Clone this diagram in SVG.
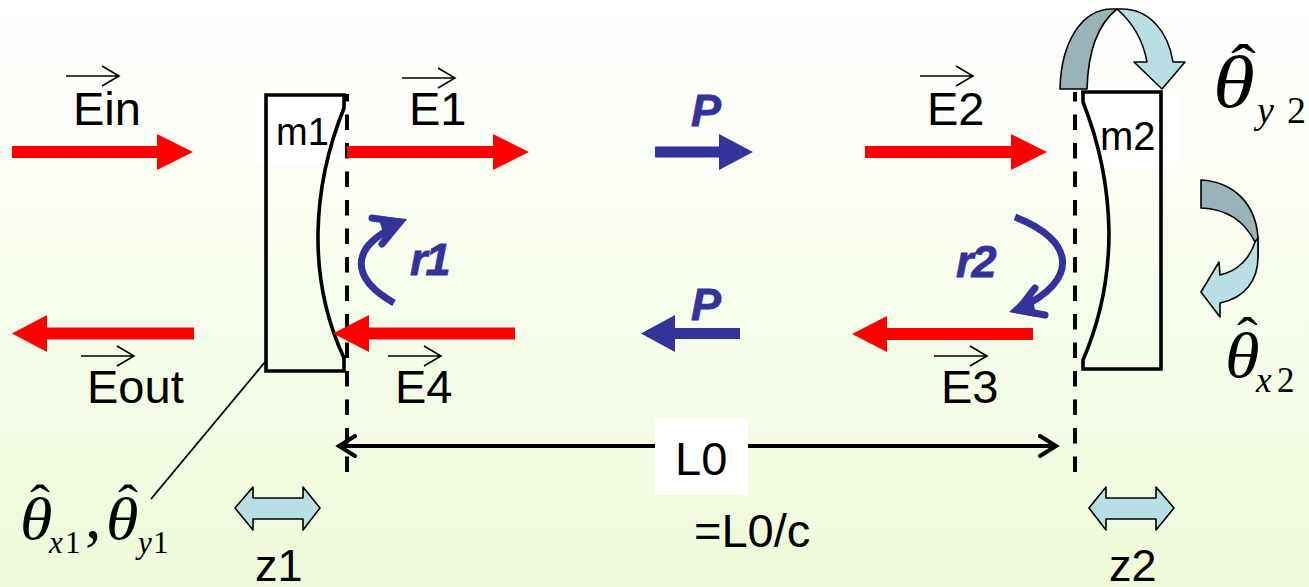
<svg xmlns="http://www.w3.org/2000/svg" width="1309" height="587" viewBox="0 0 1309 587">
<style>
.t{font-family:"Liberation Sans",Arial,sans-serif;font-size:47px;fill:#000}
.b{font-family:"Liberation Sans",Arial,sans-serif;font-size:45px;font-weight:bold;font-style:italic;fill:#333399;stroke:#333399;stroke-width:.8}
.s{font-family:"Liberation Serif","Times New Roman",serif;fill:#000}
.i{font-style:italic}
.red{fill:#f00}
.blue{fill:#333399}
.vec{fill:none;stroke:#000;stroke-width:1.6}
.mir{fill:none;stroke:#000;stroke-width:3.6}
.dash{fill:none;stroke:#000;stroke-width:4;stroke-dasharray:15.5 13}
.lt{fill:#b8dfe3;stroke:#000;stroke-width:1.6;stroke-linejoin:round}
.dk{fill:#98b4b8;stroke:#000;stroke-width:1.6;stroke-linejoin:round}
.arc{fill:none;stroke:#333399;stroke-width:7}
</style>
<defs>
<linearGradient id="bg" x1="0" y1="0" x2="0" y2="1"><stop offset="0" stop-color="#fff"/><stop offset="1" stop-color="#eefad9"/></linearGradient>
<path id="vr" class="vec" d="M0 0H53M36 -10L53 0L36 10"/>
</defs>
<rect width="1309" height="587" fill="url(#bg)"/>
<g id="m1">
<rect x="256" y="94" width="92" height="69" fill="#fff"/>
<path class="mir" d="M266 95V371H344V358Q317 300 318 233Q319 170 344 108V95Z"/>
<text class="t" x="276" y="145" style="font-size:38px">m1</text>
</g>
<g id="m2">
<rect x="1080" y="92" width="99" height="76" fill="#fff"/>
<path class="mir" d="M1161 92V369H1083V360Q1109 300 1109 232Q1108 165 1083 102V92Z"/>
<text class="t" x="1100" y="150" style="font-size:40px">m2</text>
</g>
<g id="connectors">
<path class="dash" d="M347 472V94"/>
<path class="dash" d="M1075 472V92"/>
<path class="red" d="M12 146H157V134L193 152L157 170V158H12Z"/>
<path class="red" d="M347 146H493V134L529 152L493 170V158H347Z"/>
<path class="red" d="M194 327.500H47V315L12 333.500L47 352V339.500H194Z"/>
<path class="red" d="M515 327.500H369V315L333 333.500L369 352V339.500H515Z"/>
<path class="red" d="M865 146H1011V134L1047 152L1011 170V158H865Z"/>
<path class="red" d="M1033 328H887V316L852 334L887 352V340H1033Z"/>
<path class="blue" d="M655 146.500H719V134L753 152L719 170V157.500H655Z"/>
<path class="blue" d="M740 328H675V315L641 333.500L675 352V339H740Z"/>
<path class="arc" d="M394 303C350 278 350 248 396 226"/>
<path class="arc" d="M372 218L400 222L382 244" stroke-linecap="round"/>
<path class="blue" d="M407 219L378 216L386 243Z"/>
<path class="arc" d="M1015 217C1075 240 1080 280 1020 308"/>
<path class="arc" d="M1045 315L1018 310L1035 288" stroke-linecap="round"/>
<path class="blue" d="M1009 312L1036 317L1032 291Z"/>
<path d="M338 446H1056" fill="none" stroke="#000" stroke-width="4"/>
<path d="M355 436L339 446L355 456M1040 436L1056 446L1040 456" fill="none" stroke="#000" stroke-width="4" stroke-linecap="round"/>
<path d="M265 362L151 499" fill="none" stroke="#000" stroke-width="1.800"/>
<use href="#vr" x="66" y="76"/>
<use href="#vr" x="402" y="78"/>
<use href="#vr" x="81" y="356"/>
<use href="#vr" x="388" y="356"/>
<use href="#vr" x="920" y="76"/>
<use href="#vr" x="934" y="356"/>
<path class="dk" d="M1060 89C1061 42 1082 9 1112 9H1117C1098 24 1088 52 1087 89Z"/>
<path class="lt" d="M1117 9H1122C1148 9 1168 30 1173 62H1185L1162 89L1134 62H1147C1143 40 1132 22 1117 9Z"/>
<path class="dk" d="M1201 180C1235 182 1256 205 1258 238V257C1257 250 1256 246 1255 242C1245 222 1228 209 1201 208Z"/>
<path class="lt" d="M1255 242C1250 258 1238 271 1220 275L1219 262L1201 292L1220 317L1220 303C1245 298 1258 280 1258 257V238Z"/>
<path class="lt" d="M235 508L253 487V498H303V487L320 508L303 530V519H253V530Z"/>
<path class="lt" d="M1089 508L1106 487V498H1156V487L1174 508L1156 530V519H1106V530Z"/>
</g>
<g id="labels">
<text class="t" x="73" y="125">Ein</text>
<text class="t" x="409" y="125">E1</text>
<text class="t" x="927" y="125">E2</text>
<text class="t" x="87" y="403">Eout</text>
<text class="t" x="395" y="403">E4</text>
<text class="t" x="941" y="403">E3</text>
<text class="b" x="691" y="126">P</text>
<text class="b" x="691" y="320">P</text>
<text class="b" x="410" y="275" letter-spacing="-2">r1</text>
<text class="b" x="956" y="277" letter-spacing="-2">r2</text>
<rect x="655" y="418" width="93" height="77" fill="#fff"/>
<text class="t" x="675" y="475">L0</text>
<text class="t" x="694" y="547">=L0/c</text>
<text class="t" x="255" y="581" style="font-size:45px">z1</text>
<text class="t" x="1109" y="581" style="font-size:45px">z2</text>
<g id="theta-y2">
<text class="s i" transform="translate(1213 107) scale(1.15 1)" font-size="74">θ</text>
<text class="s" transform="translate(1231 87) scale(1.2 1)" font-size="62">ˆ</text>
<text class="s i" x="1257" y="123" font-size="38">y</text>
<text class="s" x="1287" y="123" font-size="38">2</text>
</g>
<g id="theta-x2">
<text class="s i" transform="translate(1225 377) scale(1.1 1)" font-size="64">θ</text>
<text class="s" transform="translate(1237 354) scale(1.2 1)" font-size="52">ˆ</text>
<text class="s i" x="1256" y="392" font-size="35">x</text>
<text class="s" x="1277" y="392" font-size="35">2</text>
</g>
<g id="theta-1">
<text class="s i" transform="translate(20 539) scale(1.1 1)" font-size="60">θ</text>
<text class="s" transform="translate(30 520) scale(1.2 1)" font-size="50">ˆ</text>
<text class="s i" x="49" y="553" font-size="31">x</text>
<text class="s" x="65" y="553" font-size="31">1</text>
<text class="s" x="85" y="538" font-size="66">,</text>
<text class="s i" transform="translate(106 539) scale(1.1 1)" font-size="60">θ</text>
<text class="s" transform="translate(118 520) scale(1.2 1)" font-size="50">ˆ</text>
<text class="s i" x="138" y="553" font-size="31">y</text>
<text class="s" x="153" y="553" font-size="31">1</text>
</g>
</g>
</svg>
